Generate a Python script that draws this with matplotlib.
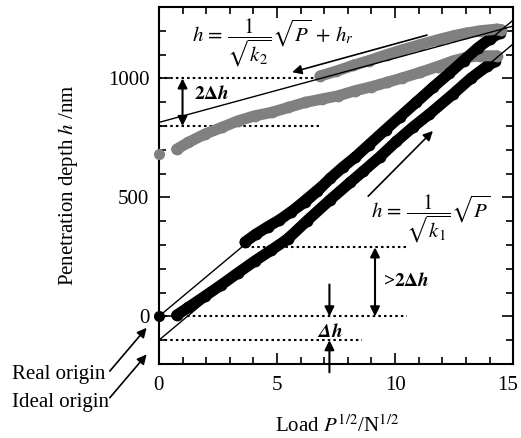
import matplotlib
matplotlib.use("Agg")
import matplotlib.pyplot as plt
from matplotlib.ticker import MultipleLocator

plt.rcParams['font.family'] = ['Liberation Serif', 'DejaVu Serif']
plt.rcParams['mathtext.fontset'] = 'stix'

# first loading (black, lower)
load1_x = [0.75, 1.25, 1.95, 2.65, 3.35, 4.05, 4.75, 5.45, 6.25, 7.25, 8.1, 8.65,
           9.35, 10.05, 10.75, 11.45, 12.45, 13.2, 13.9, 14.25]
load1_y = [5, 38, 85, 133, 183, 232, 278, 325, 400, 490, 563, 610,
           670, 735, 795, 850, 934, 1000, 1052, 1072]
# first unloading (gray, lower)
unload1_x = [14.3, 13.6, 13.0, 12.47, 11.8, 11.06, 10.3, 9.65, 9.0, 8.3, 7.6, 6.89,
             6.19, 5.48, 4.77, 4.07, 3.36, 2.66, 1.95, 1.24, 0.75]
unload1_y = [1095, 1095, 1088, 1074, 1050, 1025, 1002, 983, 965, 948, 927, 913,
             899, 878, 857, 843, 822, 794, 766, 731, 702]
# second loading (black, upper)
load2_x = [3.65, 4.1, 4.6, 5.1, 5.6, 6.2, 6.7, 7.25, 7.8, 8.3, 8.9, 9.6, 10.2,
           10.9, 11.6, 12.3, 12.9, 13.5, 14.0, 14.45]
load2_y = [313, 345, 376, 405, 440, 482, 525, 580, 628, 668, 722, 785, 838,
           900, 962, 1022, 1075, 1128, 1165, 1192]
# second unloading (gray, upper)
unload2_x = [14.5, 14.3, 13.6, 13.0, 12.47, 11.8, 11.06, 10.3, 9.65, 8.9, 8.23, 7.5, 6.82]
unload2_y = [1205, 1207, 1200, 1190, 1179, 1162, 1142, 1120, 1100, 1075, 1055, 1030, 1010]

real_origin = (0, 0)
unload_end = (0, 681)

# fitted lines  h = P^1/2 / sqrt(k) + offset
k1_slope = 83.0
k2_slope = 27.0
h_r = 815
dh = 100

x_ticks = [0, 5, 10, 15]
y_ticks = [0, 500, 1000]

fig = plt.figure(figsize=(5.21, 4.38), dpi=100)
ax = fig.add_axes([0.305, 0.169, 0.680, 0.815])

for xs, ys, c in [(load1_x, load1_y, 'black'), (unload1_x, unload1_y, '#808080'),
                  (load2_x, load2_y, 'black'), (unload2_x, unload2_y, '#808080')]:
    ax.plot(xs, ys, '-', color=c, lw=8, solid_capstyle='round', zorder=2)
    ax.plot(xs, ys, 'o', color=c, ms=8.5, mec='none', zorder=2)
ax.plot(*real_origin, 'o', color='black', ms=8, mec='none', clip_on=False, zorder=3)
ax.plot(*unload_end, 'o', color='#808080', ms=8, mec='none', clip_on=False, zorder=3)

xs = [0, 15]
ax.plot(xs, [k1_slope * x for x in xs], color='black', lw=1, zorder=4)
ax.plot(xs, [k1_slope * x - dh for x in xs], color='black', lw=1, zorder=4)
ax.plot(xs, [k2_slope * x + h_r for x in xs], color='black', lw=1, zorder=4)

dots = dict(color='black', lw=1.5, ls=(0, (1.2, 1.5)), zorder=1)
ax.plot([0, 6.8], [1000, 1000], **dots)
ax.plot([0, 6.8], [800, 800], **dots)
ax.plot([3.7, 10.5], [290, 290], **dots)
ax.plot([0, 10.5], [0, 0], **dots)
ax.plot([0, 8.6], [-100, -100], **dots)

def arrow(x0, y0, x1, y1, style='-|>', lw=1.2):
    ax.annotate('', xy=(x1, y1), xytext=(x0, y0), annotation_clip=False,
                arrowprops=dict(arrowstyle=style, color='black', lw=lw,
                                mutation_scale=14, shrinkA=0, shrinkB=0))

arrow(11.35, 1182, 5.64, 1026)
arrow(8.86, 505, 11.6, 779)
arrow(1.0, 800, 1.0, 1000, '<|-|>', 1.5)
arrow(9.15, 0, 9.15, 290, '<|-|>', 1.5)
arrow(7.22, 134, 7.22, 0, '-|>', 1.5)
arrow(7.22, -235, 7.22, -100, '-|>', 1.5)
arrow(-2.08, -230, -0.52, -48)
arrow(-2.08, -342, -0.52, -160)

ax.text(1.4, 1150, r'$h\,=\,\dfrac{1}{\sqrt{k_2}}\sqrt{P}\,+\,h_r$', fontsize=15, va='center')
ax.text(9.0, 410, r'$h\,=\,\dfrac{1}{\sqrt{k_1}}\sqrt{P}$', fontsize=15, va='center')
ax.text(1.5, 934, r'$\mathbf{2\Delta}\mathbfit{h}$', fontsize=14, va='center')
ax.text(9.5, 147, r'>$\mathbf{2\Delta}\mathbfit{h}$', fontsize=14, va='center', fontweight='bold')
ax.text(7.25, -67, r'$\mathbfit{\Delta h}$', fontsize=14, va='center', ha='center')

fig.text(0.023, 0.144, 'Real origin', fontsize=15, va='center')
fig.text(0.023, 0.082, 'Ideal origin', fontsize=15, va='center')

ax.set_xlim(0, 15)
ax.set_ylim(-200, 1300)
ax.set_xticks(x_ticks)
ax.set_xticklabels([str(t) for t in x_ticks[:-1]] + [''])
ax.set_yticks(y_ticks)
ax.xaxis.set_minor_locator(MultipleLocator(1))
ax.yaxis.set_minor_locator(MultipleLocator(100))
ax.tick_params(which='both', direction='in', top=True, right=True, width=1.2, labelsize=15)
ax.tick_params(which='major', length=8)
ax.tick_params(axis='x', which='major', pad=9)
ax.tick_params(axis='y', which='major', pad=7)
ax.tick_params(which='minor', length=5)
for s in ax.spines.values():
    s.set_linewidth(1.5)
# last x label sits a little left of its tick so it stays inside the figure
ax.annotate(str(x_ticks[-1]), xy=(x_ticks[-1], 0), xycoords=('data', 'axes fraction'),
            xytext=(-4, -9), textcoords='offset points', ha='center', va='top',
            fontsize=15, annotation_clip=False)

ax.set_xlabel(r'Load $P^{1/2}$/N$^{1/2}$', fontsize=15)
ax.set_ylabel(r'Penetration depth $h$ /nm', fontsize=15)
ax.xaxis.set_label_coords(0.503, -0.143)
ax.yaxis.set_label_coords(-0.223, 0.5)

fig.savefig('out.png', dpi=100)
